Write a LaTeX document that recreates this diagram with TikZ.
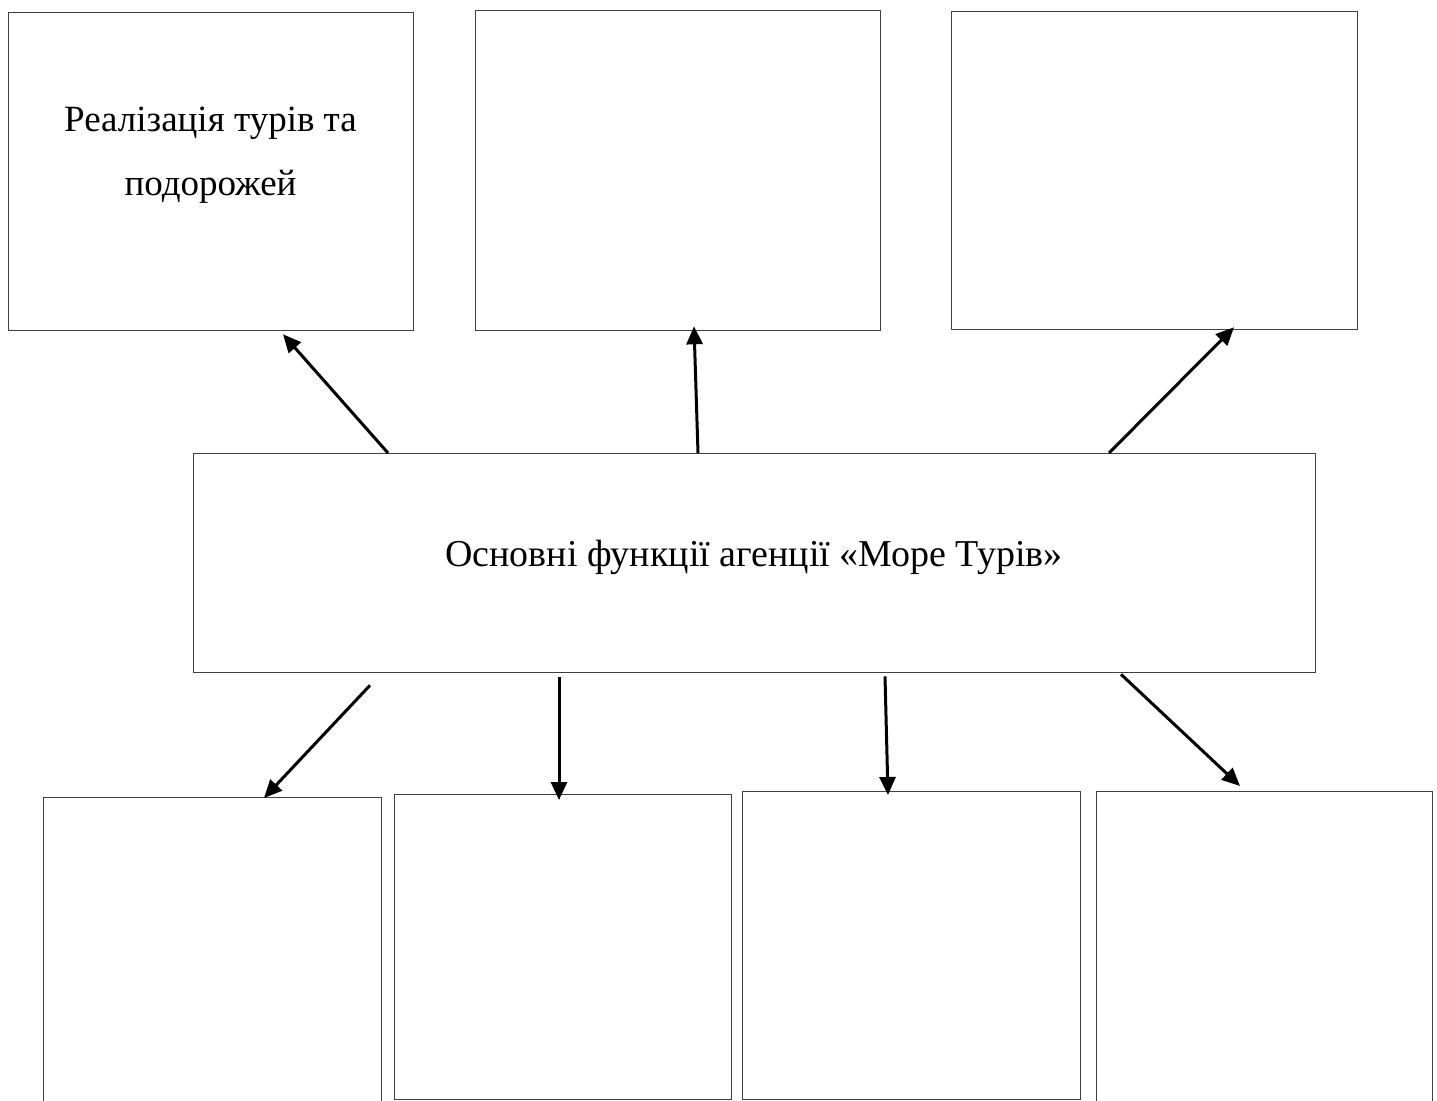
\documentclass[tikz,border=0pt]{standalone}
\usepackage{fontspec}
\setmainfont{Liberation Serif}
\newfontfamily\tnrfont{Liberation Serif}
\usetikzlibrary{arrows.meta}
\tikzset{
  box/.style={draw=black!75, line width=1.3pt, fill=none, inner sep=0pt, anchor=north west},
  arr/.style={line width=3pt, draw=black, -{Triangle[length=18pt,width=16pt]}},
  lbl/.style={font=\tnrfont\fontsize{37}{64}\selectfont, align=center, inner sep=0pt}
}
\begin{document}
\begin{tikzpicture}[x=1pt,y=-1pt]
\useasboundingbox (0,0) rectangle (1437,1100);
\clip (0,0) rectangle (1437,1100);
% top boxes
\node[box, minimum width=405pt, minimum height=318pt] (t1) at (8,12) {};
\node[box, minimum width=405pt, minimum height=320pt] (t2) at (475,10) {};
\node[box, minimum width=406pt, minimum height=318pt] (t3) at (951,11) {};
% centre box
\node[box, minimum width=1122pt, minimum height=219pt] (c) at (193,453) {};
% bottom boxes
\node[box, minimum width=338pt, minimum height=330pt] (b1) at (43,797) {};
\node[box, minimum width=337pt, minimum height=305pt] (b2) at (394,794) {};
\node[box, minimum width=338pt, minimum height=308pt] (b3) at (742,791) {};
\node[box, minimum width=336pt, minimum height=330pt] (b4) at (1096,791) {};
% texts
\node[lbl, anchor=base] (t1text) at (210.5,195) {Реалізація турів та\\подорожей};
\node[lbl, anchor=base, font=\tnrfont\fontsize{38}{45}\selectfont] (ctext) at (754,566) {Основні функції агенції «Море Турів»};
% arrows up
\draw[arr] ([xshift=195pt]c.north west) -- ([xshift=275pt,yshift=-3pt]t1.south west);
\draw[arr] ([xshift=505pt]c.north west) -- ([xshift=219pt,yshift=5pt]t2.south west);
\draw[arr] ([xshift=916pt]c.north west) -- ([xshift=283pt,yshift=3pt]t3.south west);
% arrows down
\draw[arr] ([xshift=177pt,yshift=-12pt]c.south west) -- ([xshift=221pt,yshift=-1pt]b1.north west);
\draw[arr] ([xshift=366pt,yshift=-4pt]c.south west) -- ([xshift=165pt,yshift=-6pt]b2.north west);
\draw[arr] ([xshift=692pt,yshift=-3pt]c.south west) -- ([xshift=146pt,yshift=-4pt]b3.north west);
\draw[arr] ([xshift=928pt,yshift=-1pt]c.south west) -- ([xshift=144pt,yshift=5pt]b4.north west);
\end{tikzpicture}
\end{document}
